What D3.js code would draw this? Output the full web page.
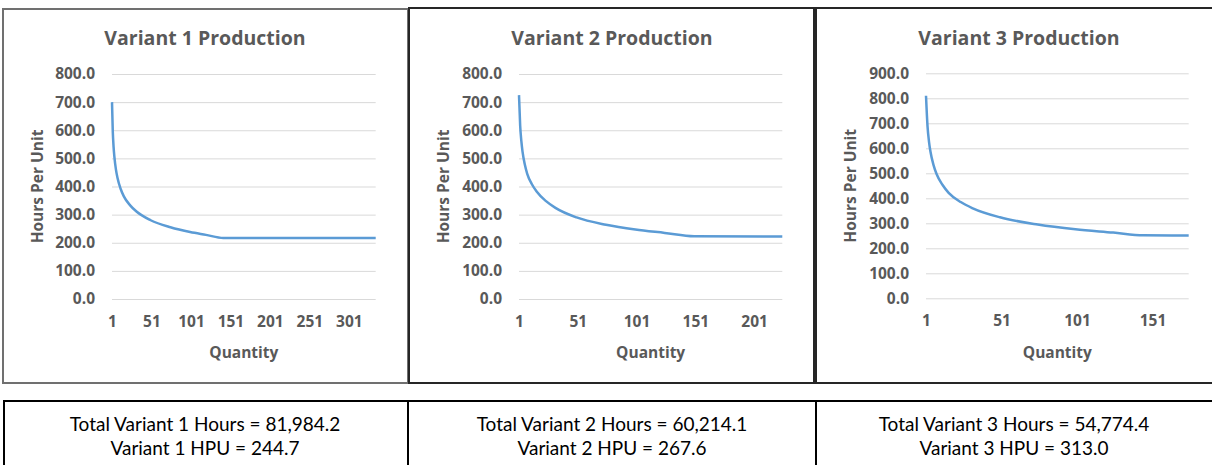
<!DOCTYPE html>
<html>
<head>
<meta charset="utf-8">
<script src="https://cdn.jsdelivr.net/npm/d3@7"></script>
<style>
  html, body { margin: 0; padding: 0; background: #fff; }
  svg { display: block; }
  .tick text { font-family: "Open Sans", Lato, sans-serif; font-weight: 700; fill: #595959; }
</style>
</head>
<body>
<svg id="chart" width="1212" height="465"></svg>
<script>
// Unit quantities and hours per unit along each production run
const titles = ["Variant 1 Production", "Variant 2 Production", "Variant 3 Production"];
const unitCounts = [335, 225, 175];

const quantity1 = [1, 2, 3, 4, 6, 8, 12, 16, 24, 32, 50, 75, 100, 120, 142, 335];
const hours1 = [700, 595, 541, 506, 460, 430, 391, 365, 333, 311, 280, 255, 238, 228, 217, 217];

const quantity2 = [1, 2, 3, 4, 6, 8, 12, 16, 24, 32, 50, 75, 100, 125, 150, 225];
const hours2 = [725, 616, 561, 524, 477, 445, 408, 382, 348, 324, 290, 264, 247, 235, 223, 222];

const quantity3 = [1, 2, 3, 4, 6, 8, 12, 16, 24, 32, 50, 75, 100, 125, 145, 175];
const hours3 = [810, 689, 626, 585, 533, 497, 453, 422, 385, 360, 324, 295, 276, 263, 252, 251];

const yTicks1 = [0, 100, 200, 300, 400, 500, 600, 700, 800];
const yTicks2 = [0, 100, 200, 300, 400, 500, 600, 700, 800];
const yTicks3 = [0, 100, 200, 300, 400, 500, 600, 700, 800, 900];

const xTicks1 = [1, 51, 101, 151, 201, 251, 301];
const xTicks2 = [1, 51, 101, 151, 201];
const xTicks3 = [1, 51, 101, 151];

const totalHours = ["81,984.2", "60,214.1", "54,774.4"];
const hoursPerUnit = ["244.7", "267.6", "313.0"];

// Layout of the three chart panels
const panels = [
  { box: [3, 9, 405, 374], stroke: "#707070", plot: [112, 375.7, 74, 299], titleX: 205, yTitleX: 38 },
  { box: [409, 8, 405, 375], stroke: "#262626", plot: [519, 782.3, 74, 299], titleX: 612, yTitleX: 444 },
  { box: [816, 8, 398, 375], stroke: "#262626", plot: [926, 1188.7, 73.3, 298.3], titleX: 1019, yTitleX: 851 }
];

const series = [
  { q: quantity1, h: hours1, yTicks: yTicks1, xTicks: xTicks1 },
  { q: quantity2, h: hours2, yTicks: yTicks2, xTicks: xTicks2 },
  { q: quantity3, h: hours3, yTicks: yTicks3, xTicks: xTicks3 }
];

const svg = d3.select("#chart");
const font = '"Open Sans", Lato, sans-serif';
const grey = "#595959";

panels.forEach((p, i) => {
  const s = series[i];
  const [bx, by, bw, bh] = p.box;
  const [x0, x1, yTop, yBottom] = p.plot;

  svg.append("rect")
    .attr("x", bx).attr("y", by).attr("width", bw).attr("height", bh)
    .attr("fill", "#fff").attr("stroke", p.stroke).attr("stroke-width", 2);

  const x = d3.scaleLinear().domain([1, unitCounts[i]]).range([x0, x1]);
  const y = d3.scaleLinear().domain([0, d3.max(s.yTicks)]).range([yBottom, yTop]);

  const g = svg.append("g");

  // horizontal gridlines with value labels
  const yAxis = g.append("g")
    .attr("transform", `translate(${x0},0)`)
    .call(d3.axisLeft(y).tickValues(s.yTicks).tickSize(-(x1 - x0)).tickPadding(17)
      .tickFormat(d3.format(".1f")));
  yAxis.select(".domain").remove();
  yAxis.selectAll(".tick line").attr("stroke", "#d9d9d9").attr("stroke-width", 1);
  yAxis.selectAll(".tick text").style("font-size", "15.5px");

  const xAxis = g.append("g")
    .attr("transform", `translate(0,${yBottom})`)
    .call(d3.axisBottom(x).tickValues(s.xTicks).tickSize(0).tickPadding(17)
      .tickFormat(d3.format("d")));
  xAxis.select(".domain").remove();
  xAxis.selectAll(".tick text").style("font-size", "15.5px");

  const points = s.q.map((q, k) => ({ q, h: s.h[k] }));
  g.append("path")
    .datum(points)
    .attr("fill", "none")
    .attr("stroke", "#5b9bd5")
    .attr("stroke-width", 2.5)
    .attr("stroke-linejoin", "round")
    .attr("d", d3.line().x(d => x(d.q)).y(d => y(d.h)).curve(d3.curveMonotoneX));

  g.append("text")
    .attr("x", p.titleX).attr("y", 45)
    .attr("text-anchor", "middle")
    .style("font-family", font).style("font-weight", 700).style("font-size", "19.5px")
    .attr("fill", grey)
    .text(titles[i]);

  g.append("text")
    .attr("x", (x0 + x1) / 2).attr("y", 358)
    .attr("text-anchor", "middle")
    .style("font-family", font).style("font-weight", 700).style("font-size", "15.5px")
    .attr("fill", grey)
    .text("Quantity");

  g.append("text")
    .attr("transform", `translate(${p.yTitleX},${(yTop + yBottom) / 2}) rotate(-90)`)
    .attr("dy", "0.35em")
    .attr("text-anchor", "middle")
    .style("font-family", font).style("font-weight", 700).style("font-size", "15.5px")
    .attr("fill", grey)
    .text("Hours Per Unit");
});

// Summary boxes below the charts
const summary = svg.append("g");
summary.append("rect")
  .attr("x", 4).attr("y", 401).attr("width", 1212).attr("height", 80)
  .attr("fill", "#fff").attr("stroke", "#000").attr("stroke-width", 2);
[408, 816].forEach(xd => {
  summary.append("line")
    .attr("x1", xd).attr("x2", xd).attr("y1", 401).attr("y2", 465)
    .attr("stroke", "#000").attr("stroke-width", 2);
});
const centres = [205, 612, 1014];
const bodyFont = 'Lato, "Open Sans", sans-serif';
centres.forEach((cx, i) => {
  const n = i + 1;
  summary.append("text")
    .attr("x", cx).attr("y", 431)
    .attr("text-anchor", "middle")
    .style("font-family", bodyFont).style("font-size", "19px")
    .attr("fill", "#000")
    .text(`Total Variant ${n} Hours = ${totalHours[i]}`);
  summary.append("text")
    .attr("x", cx).attr("y", 455)
    .attr("text-anchor", "middle")
    .style("font-family", bodyFont).style("font-size", "19px")
    .attr("fill", "#000")
    .text(`Variant ${n} HPU = ${hoursPerUnit[i]}`);
});
</script>
</body>
</html>
